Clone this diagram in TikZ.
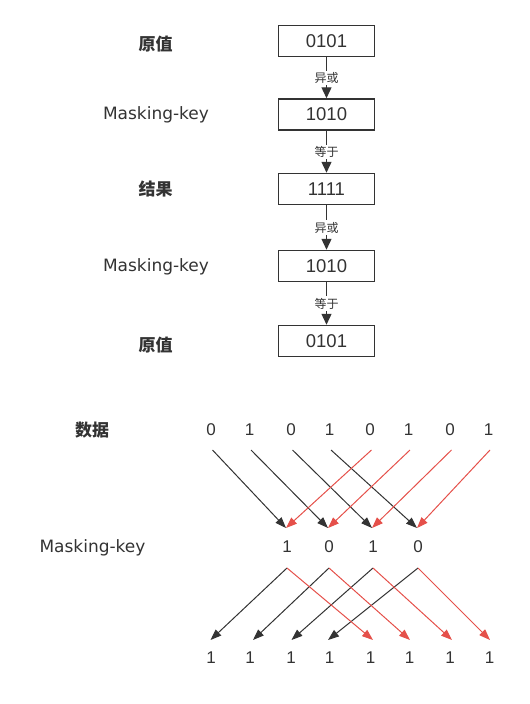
\documentclass[tikz,border=0pt]{standalone}
\usepackage{fontspec}
\setmainfont{DejaVu Sans}
\newfontfamily\cjk{Noto Sans CJK SC}
\newfontfamily\numfont{Liberation Sans}
\usetikzlibrary{arrows.meta}
\definecolor{ink}{HTML}{333333}
\definecolor{redink}{HTML}{E5504A}
\begin{document}
\begin{tikzpicture}[x=1pt,y=-1pt,
  box/.style={draw=ink, line width=1.5pt, minimum width=96pt, minimum height=31pt, inner sep=0pt, text=ink, font=\numfont\fontsize{18.5}{20}\selectfont},
  lbl/.style={text=ink, font=\fontsize{17}{20}\selectfont},
  cjklbl/.style={text=ink, font=\cjk\bfseries\fontsize{17}{20}\selectfont},
  op/.style={fill=white, inner sep=1.5pt, text=ink, font=\cjk\fontsize{12}{13}\selectfont},
  flow/.style={draw=ink, line width=1.3pt, -{Triangle[length=11pt,width=10pt]}},
  digit/.style={text=ink, font=\numfont\fontsize{17}{18}\selectfont, inner sep=0pt},
  blk/.style={draw=ink, line width=1pt, -{Triangle[length=11pt,width=8pt]}},
  rd/.style={draw=redink, line width=1pt, -{Triangle[length=11pt,width=8pt]}}
]
\useasboundingbox (0,0) rectangle (530,704);

% ---- top chain ----
\node[box] (b1) at (326.5,41) {0101};
\node[box] (b2) at (326.5,114.5) {1010};
\node[box] (b3) at (326.5,189) {1111};
\node[box] (b4) at (326.5,266) {1010};
\node[box] (b5) at (326.5,341) {0101};

\node[cjklbl] (l1) at (155.5,44) {原值};
\node[lbl] (l2) at (156,115) {Masking-key};
\node[cjklbl] (l3) at (155.5,189) {结果};
\node[lbl] (l4) at (156,267) {Masking-key};
\node[cjklbl] (l5) at (155.5,345) {原值};

\draw[flow] (b1) -- node[op] {异或} (b2);
\draw[flow] (b2) -- node[op] {等于} (b3);
\draw[flow] (b3) -- node[op] {异或} (b4);
\draw[flow] (b4) -- node[op] {等于} (b5);

% ---- bottom section ----
\node[cjklbl] (ld) at (92,430) {数据};
\node[lbl] (lm) at (92.5,548) {Masking-key};

\foreach \i/\x/\v in {1/211/0,2/249.5/1,3/291/0,4/329.5/1,5/370/0,6/408.5/1,7/450/0,8/488.5/1}{
  \node[digit] (d\i) at (\x,430) {\v};
  \coordinate (ds\i) at (\x+1.5,450);
}
\foreach \i/\x in {1/211,2/250,3/291,4/329.5,5/370.5,6/409.5,7/450,8/489.5}{
  \node[digit] (r\i) at (\x,658) {1};
}
\foreach \i/\x/\v in {1/287/1,2/329/0,3/373/1,4/418/0}{
  \node[digit] (m\i) at (\x,547) {\v};
  \coordinate (mt\i) at (\x-1,528);
  \coordinate (mb\i) at (\x,568);
}
\foreach \i/\x in {1/210.5,2/253,3/291.5,4/328,5/373,6/410,7/452,8/490}{
  \coordinate (be\i) at (\x,640);
}

\foreach \i in {1,2,3,4}{
  \draw[blk] (ds\i) -- (mt\i);
}
\foreach \i/\j in {5/1,6/2,7/3,8/4}{
  \draw[rd] (ds\i) -- (mt\j);
}
\foreach \i in {1,2,3,4}{
  \draw[blk] (mb\i) -- (be\i);
}
\foreach \i/\j in {1/5,2/6,3/7,4/8}{
  \draw[rd] (mb\i) -- (be\j);
}
\end{tikzpicture}
\end{document}
